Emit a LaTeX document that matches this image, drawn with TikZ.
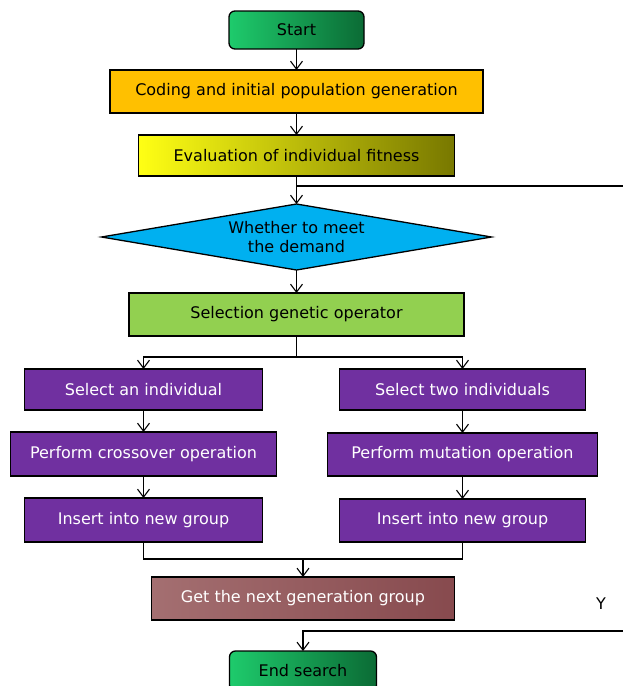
\documentclass[tikz,border=0pt]{standalone}
\usepackage{fontspec}
\setmainfont{DejaVu Sans}
\usetikzlibrary{arrows.meta, positioning, shapes.geometric, calc}

\definecolor{startL}{HTML}{1ECB6C}
\definecolor{startR}{HTML}{0B6B35}
\definecolor{codeC}{HTML}{FFC000}
\definecolor{evalL}{HTML}{FFFF14}
\definecolor{evalR}{HTML}{787800}
\definecolor{diaC}{HTML}{00B0F0}
\definecolor{selC}{HTML}{92D050}
\definecolor{purp}{HTML}{7030A0}
\definecolor{getL}{HTML}{A46F71}
\definecolor{getR}{HTML}{874A4E}

\begin{document}
\begin{tikzpicture}[
      x=1pt, y=1pt,
      font=\fontsize{16}{19}\selectfont,
      box/.style={draw, line width=1.3pt, outer sep=0pt, align=center, inner sep=2pt, minimum height=43pt},
      term/.style={box, rounded corners=6pt, left color=startL, right color=startR, minimum height=38pt},
      opbox/.style={box, fill=purp, text=white},
      arr/.style={-{Straight Barb[length=8pt, width=12pt]}, line width=1.1pt},
      ln/.style={line width=1.1pt},
    ]
    \useasboundingbox (0,0) rectangle (623,-686);
    \node[term, minimum width=135pt] (start) at (296.5,-30) {Start};
    \node[box, fill=codeC, minimum width=373pt, below=21pt of start] (code) {Coding and initial population generation};
    \node[box, left color=evalL, right color=evalR, minimum width=316pt, minimum height=41pt,
      below=22pt of code] (eval) {Evaluation of individual fitness};
    \node[draw, line width=1.3pt, outer sep=0pt, diamond, aspect=5.9, inner sep=0pt, fill=diaC, align=center,
      minimum width=390pt, minimum height=66pt, below=28pt of eval] (dia) {Whether to meet\\the demand};
    \node[box, fill=selC, minimum width=335pt, below=23pt of dia] (sel) {Selection genetic operator};
    % left branch
    \node[opbox, minimum width=238pt, minimum height=41pt, below=33pt of sel, xshift=-153pt] (selA) {Select an individual};
    \node[opbox, minimum width=266pt, minimum height=44pt, below=22pt of selA] (cross) {Perform crossover operation};
    \node[opbox, minimum width=238pt, minimum height=44pt, below=22pt of cross] (insA) {Insert into new group};
    % right branch
    \node[opbox, minimum width=246pt, minimum height=41pt, below=33pt of sel, xshift=166pt] (selB) {Select two individuals};
    \node[opbox, minimum width=270pt, below=23pt of selB] (mut) {Perform mutation operation};
    \node[opbox, minimum width=246pt, below=23pt of mut] (insB) {Insert into new group};
    \node[box, left color=getL, right color=getR, text=white, minimum width=303pt,
      below=35pt of insA, xshift=159.5pt] (get) {Get the next generation group};
    \node[term, minimum width=147pt, minimum height=40pt, below=31pt of get] (endn) {End search};
    \node (ylab) at (601,-604) {Y};

    \coordinate (edge) at (623,0);
    \coordinate (lp) at ($(eval.south)+(0,-10)$);
    \coordinate (fk) at ($(sel.south)+(0,-21)$);
    \coordinate (jn) at ($(get.north)+(0,18)$);
    \coordinate (yb) at ($(endn.north)+(0,20)$);

    \draw[arr] (start) -- (code);
    \draw[arr] (code) -- (eval);
    \draw[arr] (eval) -- (dia);
    \draw[ln] (lp) -- (lp -| edge);
    \draw[arr] (dia) -- (sel);
    \draw[ln] (sel.south) -- (fk);
    \draw[arr] (fk) -| (selA.north);
    \draw[arr] (fk) -| (selB.north);
    \draw[arr] (selA) -- (cross);
    \draw[arr] (cross) -- (insA);
    \draw[arr] (selB) -- (mut);
    \draw[arr] (mut) -- (insB);
    \draw[ln] (insA.south) |- (jn) -| (insB.south);
    \draw[arr] (jn) -- (get.north);
    \draw[arr] (yb -| edge) -| (endn.north);
  \end{tikzpicture}
\end{document}
